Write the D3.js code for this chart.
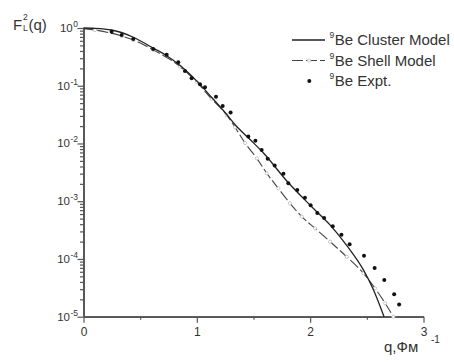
<!DOCTYPE html>
<html>
<head>
<meta charset="utf-8">
<script src="https://cdn.jsdelivr.net/npm/d3@7"></script>
<style>
  body { margin: 0; background: #fff; }
  svg { display: block; font-family: "Liberation Sans", Arial, sans-serif; }
</style>
</head>
<body>
<svg id="chart" width="454" height="362"></svg>
<script>
// values
var clusterQ = [0, 0.1, 0.249, 0.44, 0.616, 0.734, 0.852, 0.925, 1.0, 1.13, 1.26, 1.34, 1.47, 1.59, 1.79, 2.0, 2.175, 2.32, 2.47, 2.56, 2.652];
var clusterF = [1, 0.989, 0.923, 0.692, 0.447, 0.331, 0.224, 0.168, 0.12, 0.0631, 0.0324, 0.0209, 0.0117, 0.00676, 0.00229, 0.000851, 0.000389, 0.000174, 6.46e-5, 2.88e-5, 1.0e-5];

var shellQ = [0, 0.101, 0.337, 0.44, 0.616, 0.852, 1.0, 1.131, 1.264, 1.337, 1.425, 1.529, 1.617, 1.719, 1.822, 1.926, 2.043, 2.176, 2.323, 2.47, 2.573, 2.662, 2.734];
var shellF = [0.977, 0.923, 0.726, 0.619, 0.417, 0.214, 0.115, 0.0589, 0.0309, 0.0191, 0.0102, 0.00553, 0.00305, 0.00167, 0.00092, 0.00054, 0.00034, 0.000199, 0.000109, 5.65e-5, 3.1e-5, 1.71e-5, 1.0e-5];

var exptQ = [0.248, 0.337, 0.439, 0.615, 0.734, 0.836, 0.895, 0.954, 1.028, 1.072, 1.169, 1.228, 1.298, 1.454, 1.517, 1.572, 1.625, 1.687, 1.764, 1.807, 1.886, 1.954, 2.004, 2.063, 2.123, 2.199, 2.276, 2.348, 2.475, 2.569, 2.654, 2.741, 2.785];
var exptF = [0.863, 0.757, 0.646, 0.434, 0.345, 0.255, 0.18, 0.135, 0.106, 0.0942, 0.0647, 0.0448, 0.0345, 0.0132, 0.0111, 0.00774, 0.00546, 0.00415, 0.00298, 0.00204, 0.00156, 0.00115, 0.000849, 0.000625, 0.000512, 0.000369, 0.000262, 0.000179, 0.000114, 6.98e-5, 4.32e-5, 2.45e-5, 1.63e-5];

var xMajor = [0, 1, 2, 3];
var xMinor = [0.5, 1.5, 2.5];
var yExps = [0, -1, -2, -3, -4, -5];
var legendNames = ["Be Cluster Model", "Be Shell Model", "Be Expt."];

var svg = d3.select("#chart");

var x = d3.scaleLinear().domain([0, 3]).range([83.5, 423.5]);
var y = d3.scaleLog().domain([1e-5, 1]).range([316.7, 28]);

var axisColor = "#555";
var textColor = "#333";

// x axis
var xAxis = svg.append("g").attr("transform", "translate(0,316.7)");
xAxis.call(d3.axisBottom(x).tickValues(xMajor).tickSize(6).tickSizeOuter(0).tickPadding(4.5).tickFormat(d3.format("d")));
var xMinorG = svg.append("g").attr("transform", "translate(0,316.7)");
xMinorG.call(d3.axisBottom(x).tickValues(xMinor).tickSize(3).tickSizeOuter(0).tickFormat(""));

// y axis
var yAxis = svg.append("g").attr("transform", "translate(83.5,0)");
yAxis.call(d3.axisLeft(y).tickValues(yExps.map(function(e) { return Math.pow(10, e); })).tickSize(6).tickSizeOuter(0).tickFormat(""));
var yMinorVals = y.ticks().filter(function(v) {
  var l = Math.log10(v);
  return Math.abs(l - Math.round(l)) > 1e-6;
});
var yMinorG = svg.append("g").attr("transform", "translate(83.5,0)");
yMinorG.call(d3.axisLeft(y).tickValues(yMinorVals).tickSize(3.5).tickSizeOuter(0).tickFormat(""));

svg.selectAll(".domain").attr("stroke", axisColor).attr("stroke-width", 1.7);
svg.selectAll(".tick line").attr("stroke", axisColor).attr("stroke-width", 1.2);
xAxis.selectAll(".tick text").attr("fill", textColor).attr("font-size", 12).attr("font-family", "Liberation Sans, Arial, sans-serif");

// y tick labels 10^n
var yLab = svg.append("g");
yExps.forEach(function(e) {
  var t = yLab.append("text")
    .attr("x", 78)
    .attr("y", y(Math.pow(10, e)) + 4)
    .attr("text-anchor", "end")
    .attr("fill", textColor)
    .attr("font-size", 11.5);
  t.append("tspan").text("10");
  t.append("tspan").attr("dy", -5).attr("dx", 0.5).attr("font-size", 8.5).text(e === 0 ? "0" : "-" + Math.abs(e));
});

// curves
var line = d3.line()
  .x(function(d) { return x(d[0]); })
  .y(function(d) { return y(d[1]); })
  .curve(d3.curveMonotoneX);

var cluster = d3.zip(clusterQ, clusterF);
var shell = d3.zip(shellQ, shellF);
var expt = d3.zip(exptQ, exptF);

svg.append("path")
  .datum(shell)
  .attr("d", line)
  .attr("fill", "none")
  .attr("stroke", "#444")
  .attr("stroke-width", 1.1)
  .attr("stroke-dasharray", "11,3");

svg.append("g").selectAll("circle")
  .data(shell.slice(1))
  .join("circle")
  .attr("cx", function(d) { return x(d[0]); })
  .attr("cy", function(d) { return y(d[1]); })
  .attr("r", 1.6)
  .attr("fill", "#fff")
  .attr("stroke", "#bbb")
  .attr("stroke-width", 0.8);

svg.append("path")
  .datum(cluster)
  .attr("d", line)
  .attr("fill", "none")
  .attr("stroke", "#222")
  .attr("stroke-width", 1.3);

svg.append("g").selectAll("circle")
  .data(expt)
  .join("circle")
  .attr("cx", function(d) { return x(d[0]); })
  .attr("cy", function(d) { return y(d[1]); })
  .attr("r", 2)
  .attr("fill", "#111");

// axis titles
svg.append("text").attr("x", 13).attr("y", 30).attr("fill", textColor).attr("font-size", 15).text("F");
svg.append("text").attr("x", 23).attr("y", 20).attr("fill", textColor).attr("font-size", 8.5).text("2");
svg.append("text").attr("x", 23).attr("y", 30.5).attr("fill", textColor).attr("font-size", 8.5).text("L");
svg.append("text").attr("x", 28.5).attr("y", 30).attr("fill", textColor).attr("font-size", 15).text("(q)");

svg.append("text").attr("x", 384).attr("y", 351.5).attr("fill", textColor).attr("font-size", 15).text("q,Фм");
svg.append("text").attr("x", 431).attr("y", 343).attr("fill", textColor).attr("font-size", 10).text("-1");

// legend
var lg = svg.append("g");
var rows = [40, 60.5, 81];
lg.append("line").attr("x1", 292).attr("x2", 325).attr("y1", rows[0]).attr("y2", rows[0])
  .attr("stroke", "#222").attr("stroke-width", 1.3);
lg.append("line").attr("x1", 292).attr("x2", 325).attr("y1", rows[1]).attr("y2", rows[1])
  .attr("stroke", "#444").attr("stroke-width", 1.1).attr("stroke-dasharray", "11,3");
lg.append("circle").attr("cx", 309).attr("cy", rows[1]).attr("r", 1.6)
  .attr("fill", "#fff").attr("stroke", "#bbb").attr("stroke-width", 0.8);
lg.append("circle").attr("cx", 309.3).attr("cy", rows[2]).attr("r", 2).attr("fill", "#111");

legendNames.forEach(function(name, i) {
  var t = lg.append("text").attr("x", 329.5).attr("y", rows[i] + 5).attr("fill", textColor).attr("font-size", 15);
  t.append("tspan").attr("font-size", 8.5).attr("dy", -7).text("9");
  t.append("tspan").attr("dy", 7).attr("dx", 0.5).text(name);
});
</script>
</body>
</html>
